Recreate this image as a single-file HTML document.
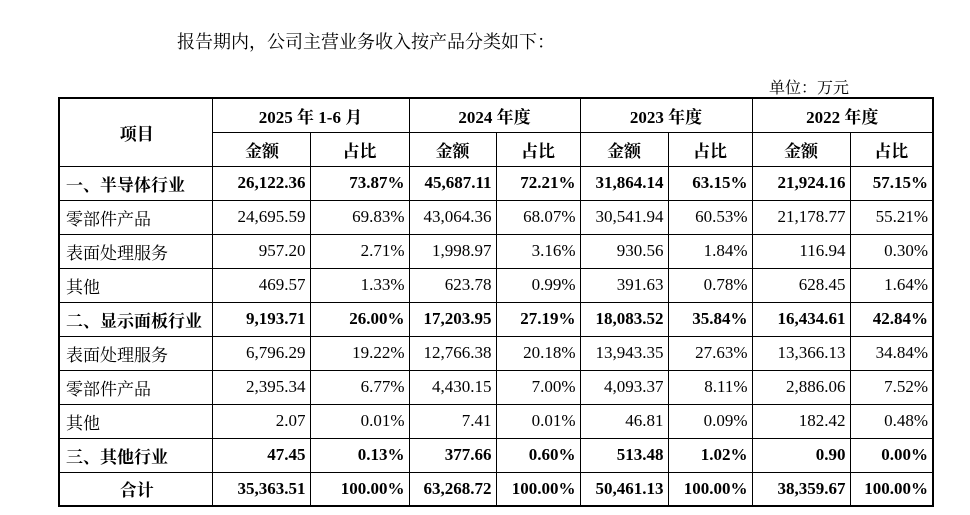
<!DOCTYPE html>
<html><head><meta charset="utf-8"><style>
body{margin:0;width:970px;height:515px;background:#fff;font-family:"Liberation Serif","Noto Serif CJK SC",serif;color:#000;position:relative;overflow:hidden}
.t{position:absolute;left:177px;top:28px;font-size:18px}
.u{position:absolute;left:769px;top:75px;font-size:16px}
table{position:absolute;left:58px;top:97px;border-collapse:collapse;border:2px solid #000;table-layout:fixed;font-size:17px}
td{border:1px solid #000;height:34px;padding:0 4px;text-align:right;white-space:nowrap;box-sizing:border-box}
td:first-child{text-align:left;padding-left:6px}
.h td{text-align:center;font-weight:bold}
.b td{font-weight:bold}
.c{text-align:center!important}
</style></head><body>
<div class="t">报告期内，公司主营业务收入按产品分类如下：</div>
<div class="u">单位：万元</div>
<table>
<colgroup><col style="width:153px"><col style="width:98px"><col style="width:99px"><col style="width:87px"><col style="width:84px"><col style="width:88px"><col style="width:84px"><col style="width:98px"><col style="width:83px"></colgroup>
<tr class="h"><td rowspan="2" class="c">项目</td><td colspan="2">2025 年 1-6 月</td><td colspan="2">2024 年度</td><td colspan="2">2023 年度</td><td colspan="2">2022 年度</td></tr>
<tr class="h"><td>金额</td><td>占比</td><td>金额</td><td>占比</td><td>金额</td><td>占比</td><td>金额</td><td>占比</td></tr>
<tr class="b"><td>一、半导体行业</td><td>26,122.36</td><td>73.87%</td><td>45,687.11</td><td>72.21%</td><td>31,864.14</td><td>63.15%</td><td>21,924.16</td><td>57.15%</td></tr>
<tr><td>零部件产品</td><td>24,695.59</td><td>69.83%</td><td>43,064.36</td><td>68.07%</td><td>30,541.94</td><td>60.53%</td><td>21,178.77</td><td>55.21%</td></tr>
<tr><td>表面处理服务</td><td>957.20</td><td>2.71%</td><td>1,998.97</td><td>3.16%</td><td>930.56</td><td>1.84%</td><td>116.94</td><td>0.30%</td></tr>
<tr><td>其他</td><td>469.57</td><td>1.33%</td><td>623.78</td><td>0.99%</td><td>391.63</td><td>0.78%</td><td>628.45</td><td>1.64%</td></tr>
<tr class="b"><td>二、显示面板行业</td><td>9,193.71</td><td>26.00%</td><td>17,203.95</td><td>27.19%</td><td>18,083.52</td><td>35.84%</td><td>16,434.61</td><td>42.84%</td></tr>
<tr><td>表面处理服务</td><td>6,796.29</td><td>19.22%</td><td>12,766.38</td><td>20.18%</td><td>13,943.35</td><td>27.63%</td><td>13,366.13</td><td>34.84%</td></tr>
<tr><td>零部件产品</td><td>2,395.34</td><td>6.77%</td><td>4,430.15</td><td>7.00%</td><td>4,093.37</td><td>8.11%</td><td>2,886.06</td><td>7.52%</td></tr>
<tr><td>其他</td><td>2.07</td><td>0.01%</td><td>7.41</td><td>0.01%</td><td>46.81</td><td>0.09%</td><td>182.42</td><td>0.48%</td></tr>
<tr class="b"><td>三、其他行业</td><td>47.45</td><td>0.13%</td><td>377.66</td><td>0.60%</td><td>513.48</td><td>1.02%</td><td>0.90</td><td>0.00%</td></tr>
<tr class="b"><td class="c">合计</td><td>35,363.51</td><td>100.00%</td><td>63,268.72</td><td>100.00%</td><td>50,461.13</td><td>100.00%</td><td>38,359.67</td><td>100.00%</td></tr>
</table>
</body></html>
